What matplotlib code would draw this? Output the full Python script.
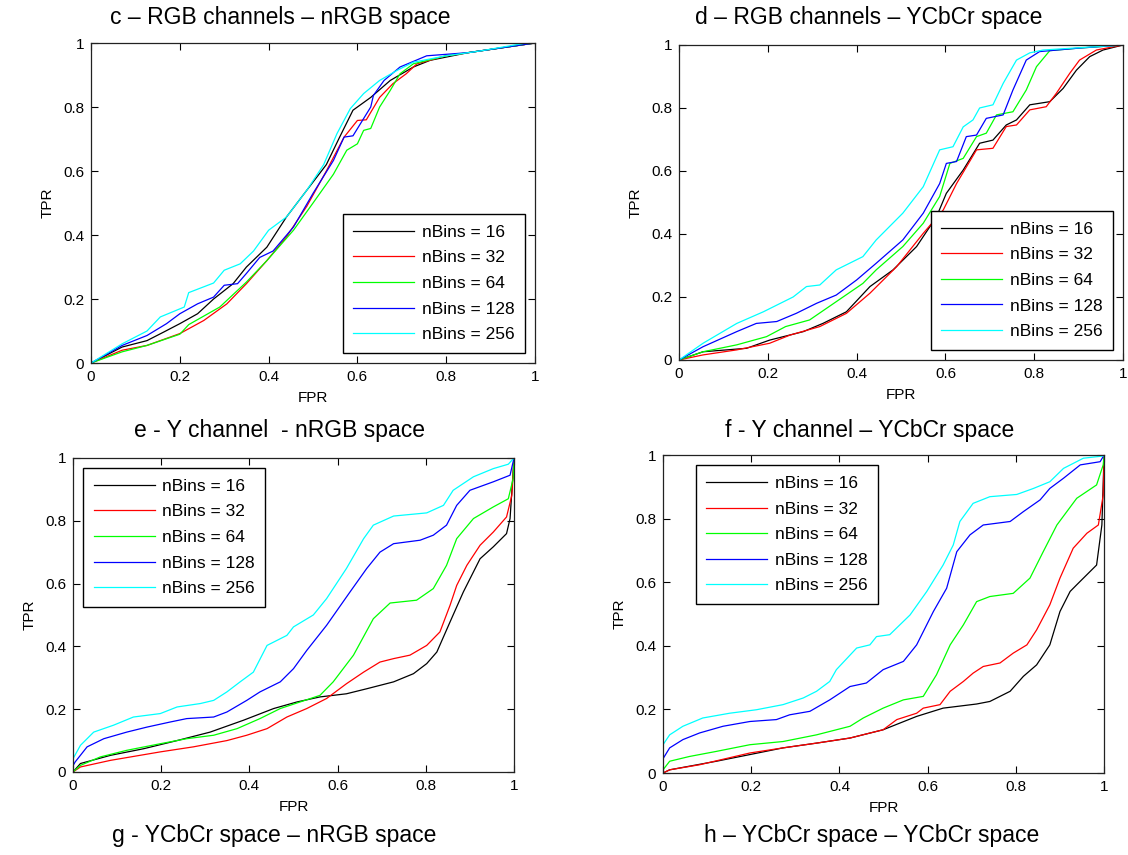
import matplotlib
matplotlib.use("Agg")
import matplotlib.pyplot as plt

plt.rcParams['font.family'] = ['Liberation Sans', 'DejaVu Sans']

# ROC curves: lists of (FPR, TPR) points
bins = [16, 32, 64, 128, 256]
colors = ['#000000', '#ff0000', '#00ff00', '#0000ff', '#00ffff']

# c - RGB channels - nRGB space
c_16 = [(0, 0), (0.07, 0.05), (0.126, 0.07), (0.164, 0.097), (0.2, 0.123), (0.24, 0.154), (0.276, 0.2),
        (0.32, 0.248), (0.35, 0.3), (0.396, 0.362), (0.44, 0.456), (0.486, 0.54), (0.53, 0.62), (0.56, 0.706),
        (0.59, 0.79), (0.63, 0.83), (0.674, 0.883), (0.726, 0.925), (0.764, 0.946), (0.85, 0.97), (1, 1)]
c_32 = [(0, 0), (0.07, 0.04), (0.126, 0.055), (0.2, 0.092), (0.254, 0.133), (0.306, 0.185), (0.35, 0.248),
        (0.396, 0.32), (0.44, 0.394), (0.486, 0.49), (0.53, 0.6), (0.57, 0.706), (0.6, 0.758), (0.62, 0.76),
        (0.65, 0.83), (0.68, 0.873), (0.71, 0.904), (0.734, 0.935), (0.8, 0.96), (1, 1)]
c_64 = [(0, 0), (0.07, 0.035), (0.126, 0.055), (0.2, 0.09), (0.22, 0.12), (0.29, 0.175), (0.35, 0.253),
        (0.396, 0.32), (0.456, 0.415), (0.5, 0.5), (0.546, 0.59), (0.576, 0.665), (0.6, 0.685), (0.614, 0.727),
        (0.63, 0.733), (0.65, 0.8), (0.674, 0.852), (0.696, 0.904), (0.726, 0.935), (0.8, 0.96), (1, 1)]
c_128 = [(0, 0), (0.07, 0.055), (0.126, 0.086), (0.17, 0.123), (0.2, 0.154), (0.24, 0.185), (0.276, 0.206),
         (0.3, 0.243), (0.33, 0.248), (0.35, 0.28), (0.38, 0.33), (0.41, 0.35), (0.456, 0.425), (0.5, 0.53),
         (0.546, 0.633), (0.57, 0.706), (0.59, 0.71), (0.63, 0.8), (0.636, 0.836), (0.66, 0.883),
         (0.696, 0.925), (0.756, 0.96), (0.85, 0.97), (1, 1)]
c_256 = [(0, 0), (0.07, 0.06), (0.126, 0.1), (0.156, 0.144), (0.21, 0.175), (0.22, 0.22), (0.276, 0.25),
         (0.3, 0.29), (0.336, 0.31), (0.366, 0.35), (0.4, 0.415), (0.44, 0.456), (0.486, 0.54), (0.524, 0.62),
         (0.554, 0.717), (0.584, 0.795), (0.614, 0.842), (0.65, 0.883), (0.69, 0.915), (0.726, 0.94),
         (0.8, 0.96), (0.876, 0.975), (0.98, 1.0), (1, 1)]

# d - RGB channels - YCbCr space
d_16 = [(0, 0), (0.054, 0.026), (0.152, 0.037), (0.204, 0.063), (0.28, 0.09), (0.324, 0.116), (0.377, 0.153),
        (0.43, 0.233), (0.482, 0.286), (0.535, 0.36), (0.58, 0.455), (0.602, 0.529), (0.64, 0.603),
        (0.677, 0.688), (0.707, 0.698), (0.737, 0.746), (0.76, 0.762), (0.79, 0.81), (0.835, 0.82),
        (0.865, 0.862), (0.895, 0.92), (0.925, 0.963), (0.955, 0.984), (1, 1)]
d_32 = [(0, 0), (0.054, 0.016), (0.13, 0.032), (0.204, 0.053), (0.25, 0.079), (0.317, 0.106), (0.377, 0.148),
        (0.43, 0.212), (0.49, 0.296), (0.55, 0.402), (0.595, 0.476), (0.625, 0.56), (0.67, 0.667),
        (0.707, 0.672), (0.737, 0.741), (0.76, 0.746), (0.79, 0.794), (0.827, 0.804), (0.85, 0.847),
        (0.88, 0.91), (0.902, 0.952), (0.94, 0.984), (1, 1)]
d_64 = [(0, 0), (0.054, 0.026), (0.13, 0.048), (0.197, 0.074), (0.24, 0.106), (0.294, 0.127), (0.354, 0.185),
        (0.414, 0.243), (0.444, 0.286), (0.504, 0.36), (0.55, 0.434), (0.587, 0.519), (0.61, 0.624),
        (0.64, 0.64), (0.67, 0.709), (0.692, 0.72), (0.715, 0.778), (0.752, 0.788), (0.782, 0.857),
        (0.805, 0.931), (0.835, 0.982), (0.9, 0.99), (1, 1)]
d_128 = [(0, 0), (0.054, 0.042), (0.13, 0.09), (0.174, 0.116), (0.22, 0.122), (0.264, 0.148), (0.31, 0.18),
         (0.354, 0.206), (0.4, 0.254), (0.444, 0.307), (0.504, 0.381), (0.55, 0.466), (0.587, 0.56),
         (0.602, 0.624), (0.625, 0.63), (0.647, 0.709), (0.67, 0.714), (0.692, 0.767), (0.73, 0.778),
         (0.752, 0.857), (0.782, 0.952), (0.812, 0.979), (0.9, 0.99), (1, 1)]
d_256 = [(0, 0), (0.054, 0.053), (0.13, 0.116), (0.19, 0.153), (0.257, 0.2), (0.287, 0.233), (0.317, 0.238),
         (0.354, 0.286), (0.414, 0.328), (0.444, 0.381), (0.504, 0.466), (0.55, 0.55), (0.587, 0.667),
         (0.617, 0.677), (0.64, 0.74), (0.662, 0.762), (0.677, 0.8), (0.707, 0.81), (0.73, 0.878),
         (0.76, 0.952), (0.79, 0.975), (0.82, 0.984), (1, 1)]

# e - Y channel - nRGB space
e_16 = [(0, 0), (0.017, 0.027), (0.085, 0.053), (0.16, 0.074), (0.236, 0.1), (0.311, 0.127), (0.387, 0.165),
        (0.455, 0.202), (0.508, 0.223), (0.56, 0.239), (0.62, 0.249), (0.666, 0.265), (0.727, 0.287),
        (0.772, 0.313), (0.802, 0.345), (0.825, 0.382), (0.855, 0.478), (0.885, 0.573), (0.923, 0.679),
        (0.953, 0.717), (0.983, 0.759), (0.991, 0.807), (1, 1)]
e_32 = [(0, 0), (0.017, 0.016), (0.085, 0.037), (0.198, 0.064), (0.273, 0.08), (0.349, 0.1), (0.394, 0.117),
        (0.44, 0.138), (0.485, 0.175), (0.53, 0.202), (0.575, 0.234), (0.62, 0.281), (0.659, 0.318),
        (0.696, 0.35), (0.727, 0.361), (0.764, 0.372), (0.802, 0.403), (0.832, 0.446), (0.855, 0.531),
        (0.87, 0.594), (0.893, 0.658), (0.923, 0.722), (0.953, 0.764), (0.983, 0.812), (0.995, 0.881), (1, 1)]
e_64 = [(0, 0), (0.017, 0.021), (0.062, 0.048), (0.122, 0.069), (0.198, 0.09), (0.258, 0.106), (0.319, 0.117),
        (0.372, 0.138), (0.424, 0.17), (0.47, 0.202), (0.515, 0.223), (0.56, 0.244), (0.59, 0.287),
        (0.636, 0.372), (0.681, 0.488), (0.719, 0.538), (0.779, 0.547), (0.817, 0.584), (0.847, 0.658),
        (0.87, 0.743), (0.908, 0.807), (0.953, 0.844), (0.987, 0.87), (0.998, 0.934), (1, 1)]
e_128 = [(0, 0.02), (0.005, 0.032), (0.032, 0.08), (0.07, 0.106), (0.122, 0.127), (0.168, 0.143), (0.22, 0.159),
         (0.258, 0.17), (0.319, 0.175), (0.349, 0.191), (0.394, 0.228), (0.424, 0.255), (0.47, 0.287),
         (0.5, 0.329), (0.53, 0.387), (0.575, 0.467), (0.628, 0.573), (0.666, 0.648), (0.696, 0.7),
         (0.727, 0.727), (0.787, 0.738), (0.817, 0.754), (0.847, 0.786), (0.87, 0.849), (0.9, 0.897),
         (0.953, 0.924), (0.991, 0.945), (1, 1)]
e_256 = [(0, 0.042), (0.017, 0.085), (0.047, 0.127), (0.092, 0.149), (0.137, 0.175), (0.198, 0.186),
         (0.236, 0.207), (0.289, 0.218), (0.319, 0.228), (0.349, 0.255), (0.379, 0.287), (0.409, 0.318),
         (0.44, 0.403), (0.485, 0.435), (0.5, 0.462), (0.545, 0.5), (0.575, 0.552), (0.62, 0.648),
         (0.659, 0.743), (0.681, 0.786), (0.727, 0.815), (0.802, 0.825), (0.84, 0.849), (0.862, 0.897),
         (0.908, 0.94), (0.953, 0.966), (0.987, 0.98), (1, 1)]

# h - YCbCr space - YCbCr space (second Y-channel panel)
h_16 = [(0, 0), (0.015, 0.01), (0.121, 0.037), (0.197, 0.058), (0.272, 0.079), (0.348, 0.094), (0.424, 0.11),
        (0.499, 0.136), (0.575, 0.178), (0.635, 0.204), (0.711, 0.217), (0.741, 0.225), (0.787, 0.257),
        (0.817, 0.304), (0.847, 0.34), (0.877, 0.403), (0.9, 0.508), (0.923, 0.571), (0.938, 0.592),
        (0.983, 0.654), (0.995, 0.78), (1, 1)]
h_32 = [(0, 0), (0.015, 0.01), (0.083, 0.026), (0.197, 0.063), (0.272, 0.079), (0.348, 0.094), (0.424, 0.11),
        (0.499, 0.136), (0.53, 0.168), (0.575, 0.188), (0.59, 0.204), (0.628, 0.215), (0.651, 0.257),
        (0.681, 0.288), (0.703, 0.314), (0.726, 0.335), (0.764, 0.346), (0.794, 0.377), (0.825, 0.403),
        (0.847, 0.45), (0.877, 0.529), (0.9, 0.613), (0.93, 0.707), (0.961, 0.754), (0.987, 0.78),
        (0.998, 0.874), (1, 1)]
h_64 = [(0, 0.01), (0.015, 0.037), (0.06, 0.052), (0.121, 0.068), (0.197, 0.089), (0.272, 0.099),
        (0.348, 0.12), (0.424, 0.147), (0.454, 0.173), (0.499, 0.204), (0.545, 0.23), (0.59, 0.241),
        (0.62, 0.309), (0.651, 0.403), (0.681, 0.466), (0.711, 0.539), (0.741, 0.555), (0.794, 0.565),
        (0.832, 0.613), (0.862, 0.696), (0.893, 0.78), (0.938, 0.864), (0.983, 0.906), (0.998, 0.969), (1, 1)]
h_128 = [(0, 0.045), (0.015, 0.079), (0.045, 0.105), (0.083, 0.126), (0.136, 0.147), (0.197, 0.162),
         (0.257, 0.168), (0.287, 0.183), (0.333, 0.194), (0.378, 0.23), (0.424, 0.272), (0.461, 0.283),
         (0.499, 0.325), (0.545, 0.351), (0.575, 0.403), (0.613, 0.508), (0.643, 0.581), (0.666, 0.696),
         (0.696, 0.749), (0.726, 0.78), (0.787, 0.791), (0.817, 0.822), (0.855, 0.859), (0.877, 0.895),
         (0.908, 0.927), (0.946, 0.969), (0.991, 0.979), (1, 1)]
h_256 = [(0, 0.089), (0.015, 0.12), (0.045, 0.147), (0.09, 0.173), (0.151, 0.188), (0.212, 0.199),
         (0.272, 0.215), (0.318, 0.236), (0.348, 0.257), (0.378, 0.288), (0.393, 0.325), (0.439, 0.393),
         (0.469, 0.403), (0.484, 0.429), (0.514, 0.435), (0.56, 0.497), (0.598, 0.571), (0.635, 0.654),
         (0.658, 0.717), (0.673, 0.791), (0.703, 0.848), (0.741, 0.869), (0.802, 0.876), (0.84, 0.895),
         (0.877, 0.916), (0.908, 0.958), (0.953, 0.99), (0.998, 0.997), (1, 1)]

fig = plt.figure(figsize=(11.28, 8.55), dpi=100)

panels = [
    ([0.0807, 0.5754, 0.3936, 0.3743], [c_16, c_32, c_64, c_128, c_256], 'lower right', (1.0, 0.0)),
    ([0.6020, 0.5790, 0.3936, 0.3684], [d_16, d_32, d_64, d_128, d_256], 'lower right', (1.0, 0.0)),
    ([0.0647, 0.0971, 0.3910, 0.3673], [e_16, e_32, e_64, e_128, e_256], 'upper left', (0.0, 1.0)),
    ([0.5878, 0.0959, 0.3910, 0.3719], [h_16, h_32, h_64, h_128, h_256], 'upper left', (0.05, 1.0)),
]

ticks = [0, 0.2, 0.4, 0.6, 0.8, 1]
for rect, curves, loc, anchor in panels:
    ax = fig.add_axes(rect)
    for curve, col, nb in zip(curves, colors, bins):
        xs = [p[0] for p in curve]
        ys = [p[1] for p in curve]
        ax.plot(xs, ys, color=col, lw=0.9, label=f'nBins = {nb}')
    ax.set_xlim(0, 1)
    ax.set_ylim(0, 1)
    ax.set_xticks(ticks)
    ax.set_yticks(ticks)
    ax.set_xticklabels([f'{t:g}' for t in ticks])
    ax.set_yticklabels([f'{t:g}' for t in ticks])
    ax.tick_params(direction='in', top=True, right=True, length=5, width=0.8, labelsize=11, pad=5)
    for s in ax.spines.values():
        s.set_linewidth(0.9)
        s.set_color('#222222')
    ax.set_xlabel('FPR', fontsize=11, labelpad=5)
    ax.set_ylabel('TPR', fontsize=11, labelpad=6)
    leg = ax.legend(loc=loc, bbox_to_anchor=anchor, fontsize=12.5, handlelength=3.5, handletextpad=0.45,
                    labelspacing=0.6, borderpad=0.6, borderaxespad=0.6, fancybox=False, framealpha=1)
    leg.get_frame().set_edgecolor('black')
    leg.get_frame().set_linewidth(1.0)

titles = [
    (280 / 1128, 1 - 17.5 / 855, 'c – RGB channels – nRGB space'),
    (869 / 1128, 1 - 17.5 / 855, 'd – RGB channels – YCbCr space'),
    (280 / 1128, 1 - 430 / 855, 'e - Y channel  - nRGB space'),
    (870 / 1128, 1 - 430 / 855, 'f - Y channel – YCbCr space'),
    (274 / 1128, 1 - 835 / 855, 'g - YCbCr space – nRGB space'),
    (872 / 1128, 1 - 835 / 855, 'h – YCbCr space – YCbCr space'),
]
for x, y, t in titles:
    fig.text(x, y, t, ha='center', va='center', fontsize=16.5)

fig.savefig('out.png', dpi=100)
